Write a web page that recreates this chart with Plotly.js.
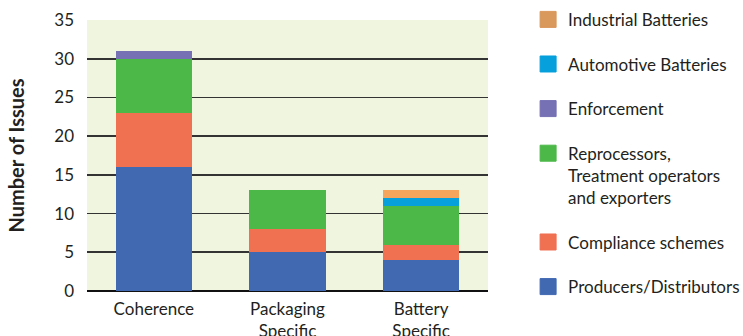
<!DOCTYPE html>
<html>
<head>
<meta charset="utf-8">
<script src="https://cdn.plot.ly/plotly-3.0.1.min.js"></script>
<style>html,body{margin:0;padding:0;background:#fff;}#chart{width:743px;height:336px;}</style>
</head>
<body>
<div id="chart"></div>
<script>
var categories = ['Coherence', 'Packaging<br>Specific', 'Battery<br>Specific'];
var seriesNames = ['Producers/Distributors', 'Compliance schemes', 'Reprocessors,<br>Treatment operators<br>and exporters', 'Enforcement', 'Automotive Batteries', 'Industrial Batteries'];
var producers = [16, 5, 4];
var compliance = [7, 3, 2];
var reprocessors = [7, 5, 5];
var enforcement = [1, 0, 0];
var automotive = [0, 0, 1];
var industrial = [0, 0, 1];
var yTicks = [0, 5, 10, 15, 20, 25, 30, 35];
var colors = ['#4169b2', '#f07052', '#4cb848', '#7670b4', '#06a0dc', '#f6a55c'];
var legendColors = ['#4169b2', '#f07052', '#4cb848', '#7670b4', '#06a0dc', '#d9985c'];

var values = [producers, compliance, reprocessors, enforcement, automotive, industrial];
var FONT = 'Lato, "Open Sans", sans-serif';
var FS = 17;
var traces = [];
values.forEach(function (v, i) {
  traces.push({
    type: 'bar', x: categories, y: v, name: seriesNames[i],
    marker: {color: colors[i], line: {width: 0}},
    showlegend: false, hoverinfo: 'none'
  });
});
for (var i = values.length - 1; i >= 0; i--) {
  traces.push({
    type: 'scatter', mode: 'markers', x: [null], y: [null], name: seriesNames[i],
    legendgroup: 'g' + i,
    marker: {symbol: 'square', size: 16, color: legendColors[i], line: {width: 1, color: legendColors[i]}},
    showlegend: true, hoverinfo: 'none'
  });
}

var layout = {
  width: 743, height: 336,
  margin: {l: 87, r: 255, t: 20, b: 45, autoexpand: false},
  paper_bgcolor: '#ffffff',
  plot_bgcolor: '#f0f5df',
  barmode: 'stack',
  bargap: 0.43,
  font: {family: FONT, size: FS, color: '#231f20'},
  xaxis: {
    type: 'category',
    tickfont: {family: FONT, size: FS, color: '#231f20'},
    showgrid: false, showline: false, zeroline: false,
    ticks: '', ticklabelstandoff: 6,
    fixedrange: true
  },
  yaxis: {
    range: [0, 35], tickvals: yTicks, ticktext: yTicks.map(String),
    tickfont: {family: FONT, size: FS, color: '#231f20'},
    showgrid: true, gridcolor: '#333333', gridwidth: 1.6,
    zeroline: true, zerolinecolor: '#111', zerolinewidth: 2,
    showline: false, ticks: '', ticklabelstandoff: 12,
    title: {text: 'Number of Issues', font: {family: FONT, size: 20, color: '#231f20', weight: 'bold'}, standoff: 24},
    fixedrange: true
  },
  legend: {
    x: 1.1, xanchor: 'left', y: 1.067, yanchor: 'top',
    traceorder: 'grouped', tracegroupgap: 19.5, valign: 'top',
    maxheight: 400,
    font: {family: FONT, size: FS, color: '#231f20'},
    bgcolor: 'rgba(0,0,0,0)'
  },
  showlegend: true
};

Plotly.newPlot('chart', traces, layout, {displayModeBar: false, staticPlot: true});
</script>
</body>
</html>
